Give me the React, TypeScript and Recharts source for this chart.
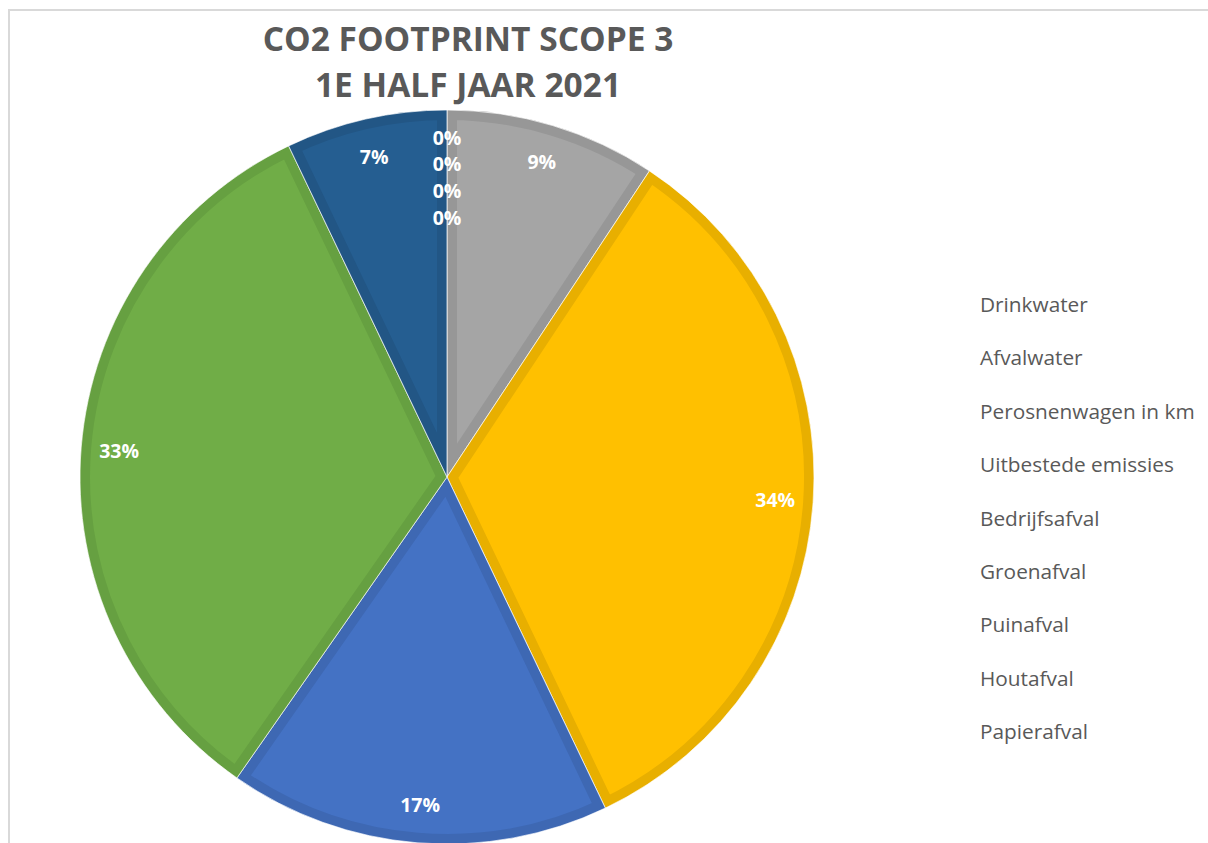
import React from 'react';
import { PieChart, Pie, Cell, Sector, Legend } from 'recharts';

const categories = [
  'Drinkwater',
  'Afvalwater',
  'Perosnenwagen in km',
  'Uitbestede emissies',
  'Bedrijfsafval',
  'Groenafval',
  'Puinafval',
  'Houtafval',
  'Papierafval',
];
const shares = [0, 0, 9.3, 33.6, 16.8, 33.2, 7.1, 0, 0];
const fills = ['#4472C4', '#ED7D31', '#A5A5A5', '#FFC000', '#4472C4', '#70AD47', '#255E91', '#9E480E', '#636363'];
const borders = ['#3E68B3', '#D8722D', '#979797', '#E8AF00', '#3E68B3', '#66A041', '#225685', '#904109', '#5A5A5A'];
const titleLines = ['CO2 FOOTPRINT SCOPE 3', '1E HALF JAAR 2021'];

const data = categories.map((name, i) => ({ name, value: shares[i] }));
const zeroRank: number[] = [];
{
  let k = 0;
  shares.forEach((v, i) => {
    zeroRank[i] = v === 0 ? k++ : -1;
  });
}

const RAD = Math.PI / 180;
const FONT = '"Open Sans", "DejaVu Sans", sans-serif';

const renderShape = (props: any) => {
  const idx = props.index ?? categories.indexOf(props.name ?? props.payload?.name);
  const id = `slice-clip-${idx}`;
  const { cx, cy, innerRadius, outerRadius, startAngle, endAngle, fill } = props;
  const geo = { cx, cy, innerRadius, outerRadius, startAngle, endAngle };
  return (
    <g>
      <defs>
        <clipPath id={id}>
          <Sector {...geo} />
        </clipPath>
      </defs>
      <Sector {...geo} fill={fill} stroke={borders[idx]} strokeWidth={20} clipPath={`url(#${id})`} />
      <Sector {...geo} fill="none" stroke="#ffffff" strokeWidth={1} strokeOpacity={0.7} />
    </g>
  );
};

const renderLabel = (props: any) => {
  const { cx, cy, midAngle, outerRadius, index, percent } = props;
  let x: number;
  let y: number;
  if (zeroRank[index] >= 0) {
    x = cx;
    y = cy - (outerRadius - 27 - zeroRank[index] * 26.7);
  } else {
    const r = outerRadius - 38;
    x = cx + r * Math.cos(-midAngle * RAD);
    y = cy + r * Math.sin(-midAngle * RAD);
  }
  return (
    <text
      x={x}
      y={y}
      fill="#ffffff"
      textAnchor="middle"
      dominantBaseline="central"
      fontFamily={FONT}
      fontWeight={700}
      fontSize={19.5}
    >
      {`${Math.round(percent * 100)}%`}
    </text>
  );
};

const LegendContent = () => (
  <div style={{ fontFamily: FONT, fontSize: 20.8, color: '#595959' }}>
    {categories.map((c) => (
      <div key={c} style={{ height: 53.4, lineHeight: '53.4px', whiteSpace: 'nowrap' }}>
        {c}
      </div>
    ))}
  </div>
);

export default function App() {
  return (
    <div
      style={{
        position: 'absolute',
        left: 0,
        top: 0,
        width: 1208,
        height: 843,
        overflow: 'hidden',
        background: '#ffffff',
      }}
    >
      <div
        style={{
          position: 'absolute',
          left: 8,
          top: 9,
          width: 1220,
          height: 860,
          borderLeft: '2px solid #d9d9d9',
          borderTop: '2px solid #d9d9d9',
        }}
      />
      <PieChart
        width={1208}
        height={843}
        margin={{ top: 0, right: 0, bottom: 0, left: 0 }}
        style={{ position: 'absolute', left: 0, top: 0 }}
      >
        <text
          x={468}
          y={51}
          textAnchor="middle"
          fontFamily={FONT}
          fontWeight={700}
          fontSize={33.5}
          fill="#595959"
        >
          {titleLines[0]}
        </text>
        <text
          x={468}
          y={97}
          textAnchor="middle"
          fontFamily={FONT}
          fontWeight={700}
          fontSize={33.5}
          fill="#595959"
        >
          {titleLines[1]}
        </text>
        <Pie
          data={data}
          dataKey="value"
          nameKey="name"
          cx={447}
          cy={477}
          outerRadius={367}
          startAngle={90}
          endAngle={-270}
          isAnimationActive={false}
          label={renderLabel}
          labelLine={false}
          inactiveShape={renderShape}
          activeShape={renderShape}
          shape={renderShape}
          stroke="none"
        >
          {data.map((d, i) => (
            <Cell key={d.name} fill={fills[i]} />
          ))}
        </Pie>
        <Legend
          content={LegendContent}
          wrapperStyle={{ position: 'absolute', left: 980, top: 278, width: 228 }}
        />
      </PieChart>
    </div>
  );
}
